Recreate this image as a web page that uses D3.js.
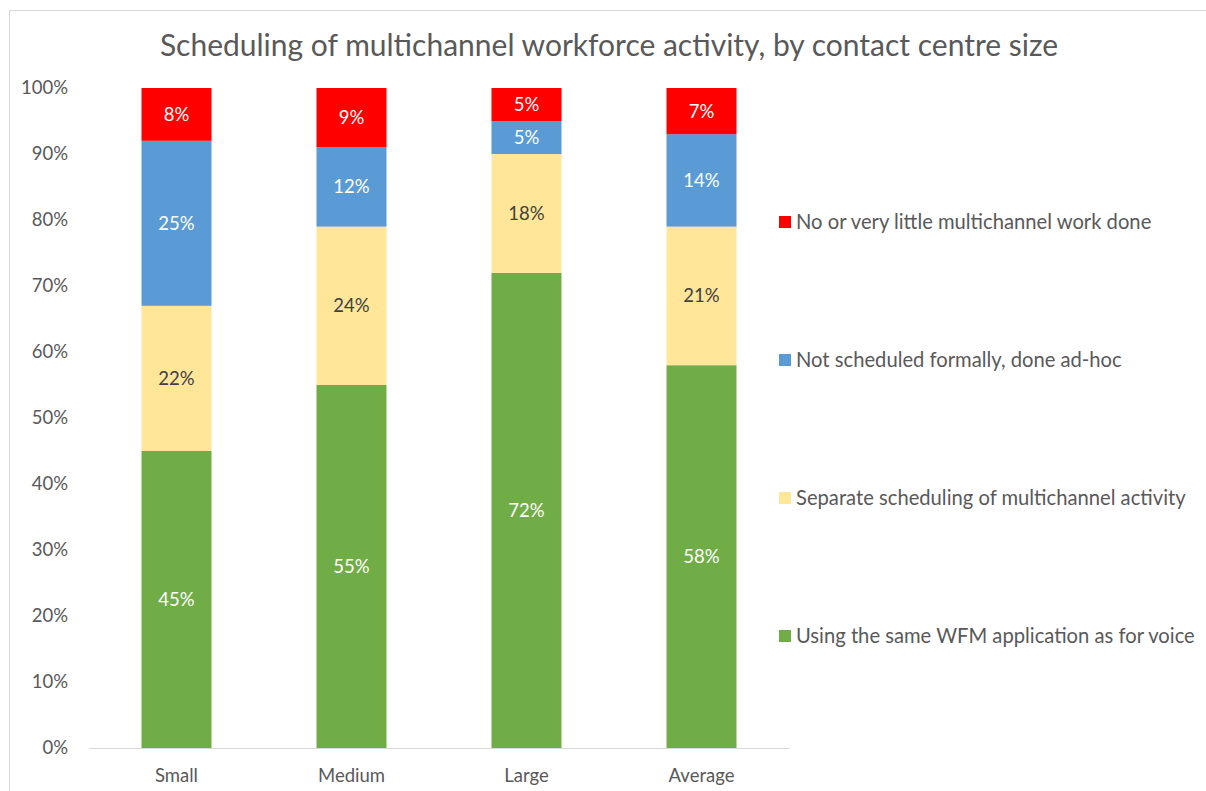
<!DOCTYPE html>
<html>
<head>
<meta charset="utf-8">
<script src="https://cdn.jsdelivr.net/npm/d3@7"></script>
<style>
  body { margin: 0; background: #fff; }
  text { font-family: Lato, "Open Sans", sans-serif; }
</style>
</head>
<body>
<div id="chart"></div>
<script>
// chart data
const categories = ["Small", "Medium", "Large", "Average"];
const seriesNames = [
  "Using the same WFM application as for voice",
  "Separate scheduling of multichannel activity",
  "Not scheduled formally, done ad-hoc",
  "No or very little multichannel work done"
];
const sameWfm = [45, 55, 72, 58];
const separate = [22, 24, 18, 21];
const adHoc = [25, 12, 5, 14];
const little = [8, 9, 5, 7];
const yTicks = [0, 10, 20, 30, 40, 50, 60, 70, 80, 90, 100];

const colors = ["#70AD47", "#FFE699", "#5B9BD5", "#FF0000"];
const labelColors = ["#fff", "#404040", "#fff", "#fff"];

const W = 1206, H = 791;
const plot = {left: 89, right: 789, top: 88, bottom: 748};

const rows = categories.map((c, i) => ({
  cat: c, s0: sameWfm[i], s1: separate[i], s2: adHoc[i], s3: little[i]
}));
const stack = d3.stack().keys(["s0", "s1", "s2", "s3"])(rows);

const svg = d3.select("#chart").append("svg")
  .attr("width", W).attr("height", H);

// outer chart border
svg.append("rect")
  .attr("x", 9.5).attr("y", 10.5)
  .attr("width", 1300).attr("height", 900)
  .attr("fill", "none").attr("stroke", "#d9d9d9");

svg.append("text")
  .attr("x", 609).attr("y", 56)
  .attr("text-anchor", "middle")
  .attr("font-size", 30).attr("fill", "#595959")
  .text("Scheduling of multichannel workforce activity, by contact centre size");

let x = d3.scaleBand().domain(categories)
  .range([plot.left, plot.right]).paddingInner(0.6).paddingOuter(0.3);
let y = d3.scaleLinear().domain([0, 100]).range([plot.bottom, plot.top]);

// y tick labels
svg.selectAll(".ytick").data(yTicks).enter().append("text")
  .attr("x", 68).attr("y", d => y(d)).attr("dy", "0.35em")
  .attr("text-anchor", "end").attr("font-size", 18.5).attr("fill", "#595959")
  .text(d => d + "%");

const groups = svg.selectAll(".series").data(stack).enter().append("g")
  .attr("fill", (d, i) => colors[i]);

groups.selectAll("rect").data(d => d).enter().append("rect")
  .attr("x", d => x(d.data.cat))
  .attr("width", x.bandwidth())
  .attr("y", d => y(d[1]))
  .attr("height", d => y(d[0]) - y(d[1]));

groups.each(function(s, i) {
  d3.select(this).selectAll("text").data(s).enter().append("text")
    .attr("x", d => x(d.data.cat) + x.bandwidth() / 2)
    .attr("y", d => (y(d[0]) + y(d[1])) / 2)
    .attr("dy", "0.35em")
    .attr("text-anchor", "middle").attr("font-size", 18.5)
    .attr("fill", labelColors[i])
    .text(d => (d[1] - d[0]) + "%");
});

// x axis line and labels
svg.append("line")
  .attr("x1", plot.left).attr("x2", plot.right + 1)
  .attr("y1", plot.bottom + 0.5).attr("y2", plot.bottom + 0.5)
  .attr("stroke", "#d9d9d9");

svg.selectAll(".xlab").data(categories).enter().append("text")
  .attr("x", d => x(d) + x.bandwidth() / 2).attr("y", 776).attr("dy", "0.35em")
  .attr("text-anchor", "middle").attr("font-size", 18.5).attr("fill", "#595959")
  .text(d => d);

// legend (top entry = last series)
const legY = [636, 498, 360, 222];
const leg = svg.selectAll(".leg").data(seriesNames).enter().append("g")
  .attr("transform", (d, i) => `translate(779,${legY[i]})`);
leg.append("rect").attr("x", 0).attr("y", -6).attr("width", 12).attr("height", 12)
  .attr("fill", (d, i) => colors[i]);
leg.append("text").attr("x", 17).attr("y", 0).attr("dy", "0.35em")
  .attr("font-size", 20.2).attr("fill", "#595959").text(d => d);
</script>
</body>
</html>
